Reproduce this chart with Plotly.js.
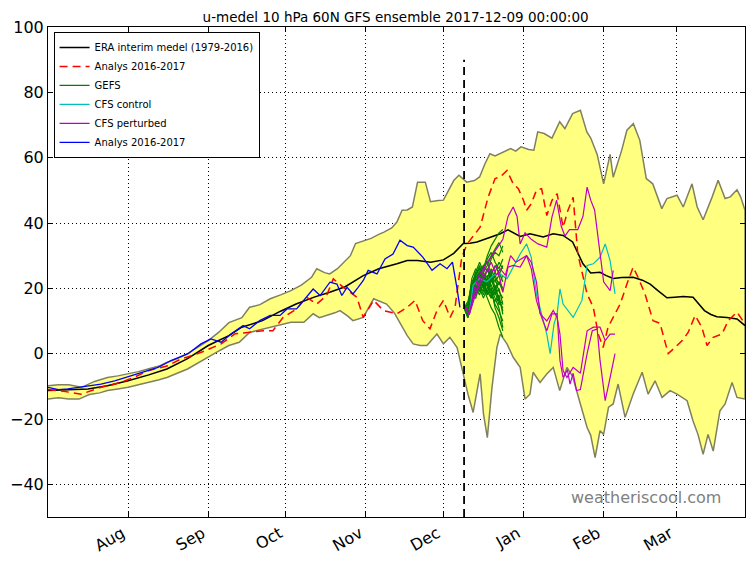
<!DOCTYPE html>
<html>
<head>
<meta charset="utf-8">
<script src="https://cdn.plot.ly/plotly-3.0.1.min.js"></script>
<style>html,body{margin:0;padding:0;background:#fff}#chart{width:755px;height:561px}</style>
</head>
<body>
<div id="chart"></div>
<script>
// Days counted from 2017-07-01
const seasonStart = '2017-07-01';
const forecastDay = 161; // 2017-12-09

const upperDays = [0,4,8,13,18,23,27,31,35,39,43,46,50,54,58,62,66,70,75,78,82,86,90,94,98,102,104,107,109,112,114,117,119,122,125,128,130,133,135,137,139,141,143,146,148,151,153,155,157,159,160.5,162,165,167,169,171,173,175,177,179,181,183,186,188,189.5,192,195,198,200,203,206,208.5,210,212.5,215,217.5,218.7,222,224,226.5,229,231.5,234,237.5,239.5,243.4,245.8,249.2,251.2,253.5,257,259.3,262,264,266.6,268,269.7];
const upperVals = [-9.8,-9.5,-9.5,-10.3,-8.5,-7.3,-6.8,-6.2,-5.5,-4.6,-3.8,-2.7,-1.5,0,2,4,6.5,9.5,11,14.2,15,16.8,18,19.3,21,23.4,26,24.8,24.4,26,27.6,30,33.7,34.5,35.3,36.5,37.2,38.5,40.3,43.9,44,44.9,52.5,52.5,46.5,46.9,47,50,53,54.6,53.5,52.5,53,54.1,58,61.2,60.5,61.3,62,62.8,62,63.3,62.5,62.3,67.9,67.4,66,71,68.9,73.5,74.5,67.9,66,61,52,61,54,62.3,68.4,70.4,65.3,53.6,52,44.4,47.5,48.5,44.9,52,44.9,41,48,53.1,47.5,48,50.2,48,43.9];

const lowerDays = [0,4,8,12,16,20,23,27,31,35,39,43,46,50,54,58,62,66,70,74,78,82,86,90,94,99,102.6,105,108,111,113,116,118,122,126,128.5,131,134,136,139,141.3,144,146.6,150.5,153,155.5,158.3,160,162.5,164.5,167.2,168.5,170,171.8,173.7,175,177.6,180,182.7,184.6,186.5,187.7,190.4,193,195.5,198,200.8,203,206,208.6,210,211.7,213.6,215,216.9,218.7,220.6,223.3,226.4,229.9,232.2,234.9,237.6,240.7,243.4,247.3,249.6,251.5,253.5,255.4,257.4,260,262,264.7,266.6,269.7];
const lowerVals = [-13.9,-13.5,-13.9,-13.9,-12.5,-12,-11.3,-10.8,-10.3,-9.5,-8.8,-8,-7.3,-6,-4.7,-3,-1.1,0.8,2.5,3.5,6.5,7.2,8.1,8.8,9.6,9.6,12.2,11,11.7,12.5,13.2,11.5,10.1,11.1,16.8,16,15.2,12.5,9.5,5.5,3,2.5,2.5,6,3,5,1.9,-4.2,-12.4,-18,-6.2,-18.4,-25.7,-10.3,1.9,6,3,-1.1,-4.2,-13.9,-12.4,-5.7,-8.8,-6.2,-4.2,-11.3,-4.2,-7,-15.4,-22.6,-25,-31.8,-23.6,-24.7,-16.4,-15.4,-9.3,-19.5,-12.4,-5.7,-12.4,-8.3,-13.4,-11.3,-12.4,-14.4,-20.6,-24.7,-30.8,-24.7,-29.8,-17.5,-15.4,-8.8,-13.4,-13.9];

const eraDays = [0,8,15.5,23,31,39,46,54,62,70,75,83,90,96,103,109,115,122,128,135,139,143,148,153,157,160.7,163.3,166,171,175,178,180,182.7,186.5,191.6,195.5,199.3,203,207,210,213.6,216,218.7,222,226.4,230,233,236,239.5,242.5,245.8,249.6,252,254,256.5,258.8,262.7,266.6,269.7];
const eraVals = [-11.3,-11,-10.8,-9.8,-8.3,-6.5,-4.7,-1.5,2.5,5.5,8.1,10.1,13,15.2,17.3,18.8,20.5,23.9,26,27.5,28.5,28.5,28,28.7,30.7,33.7,33.8,34.2,35.7,36.7,37.9,37,35.9,36.7,35.7,36.7,36.2,34.2,27.5,24.7,24.9,23.9,23,23.3,23.4,22.5,21.3,19.3,17.1,17.3,17.5,17.3,15,13.2,12,11.3,11.1,10.6,8.6];

const lastYearDays = [0,6,12.8,20.5,25,29.8,34,38.7,46.4,51.5,56,60.8,67,72.4,77.4,83.3,87,91,96.2,100,104,107.8,110.4,114.3,119.5,122,126,129.8,135,139,142,145,147.8,150.5,153,155.6,157.5,158.7,160.1,162.2,167.2,170.3,173,175,177.6,180,182,184,185.2,187,189,191,193,195,197,199.3,201.2,203.2,205,208.6,211,212.9,214.8,216.7,218.7,221.4,224,226.4,228.3,231,234.1,236.8,240,242.6,245.4,247.7,250.4,253,255,257.4,260.8,263.2,266.6,269.7];
const lastYearVals = [-11,-11.5,-12.4,-10.3,-9.5,-8.3,-7,-5.2,-3.7,-1.6,-0.5,0.9,3,6.1,6.5,7,7,11.1,13.7,17.3,15.2,17.8,22.9,20.3,17.3,11.1,16.3,13.2,12.2,14.2,16.3,10.1,7.6,13.2,16.3,11.1,14.2,21.3,29.5,33.6,38.7,47.9,53.6,54.1,56.1,52,50.5,46.9,43.9,45.9,50,50.5,42.3,46.9,49,38.7,43.9,47.9,30.5,18.3,14.2,6,1.9,8.1,11.1,15.2,21.3,26.5,23.4,18.3,10.1,9.3,0,1.9,4,6.5,11.7,8.1,2.5,5,6,10.1,12.7,9.1];

const analysisDays = [0,4,7.7,12,15.5,20.5,25.8,31,35,38.7,42.6,47.6,51,54.2,59.2,63,67,70.8,75.5,78,81.9,86,89.8,92.5,96.2,100.1,102.6,105.3,109.1,111.8,113.7,115.7,118,120,122,123.9,127.3,130.4,133.5,136.2,139,141.3,145.1,148.6,151.7,154.4,156.5,158.2,159.4];
const analysisVals = [-10.3,-11,-10.8,-10.3,-9.8,-9.3,-8.3,-7,-6,-5.2,-4.2,-2.1,-1,0,3,4.5,3.5,6,8.6,7.6,10.1,11.7,11.7,13.7,13.7,17.3,19.8,17.8,21.9,21.3,17.8,20.3,18.3,20.3,22.4,25.5,24.4,29,30.5,34.7,33.1,32.6,29.5,25.5,27.5,26,28,20.3,14.2];

const gefsDays = [161,162.5,164,165.5,167,168.5,170,171.5,173,174.5,176];
const gefsMembers = [
  [14,12,18,22,24,26,30,33,35,37,38],
  [14,13,20,25,23,27,25,29,31,30,33],
  [14,15,22,24,27,23,26,22,25,28,26],
  [14,12,17,21,19,24,21,25,20,22,19],
  [14,16,21,19,24,22,19,17,21,16,14],
  [14,13,19,23,21,18,22,19,15,13,10],
  [14,11,16,20,22,20,17,14,12,8,5],
  [14,14,23,26,24,20,23,26,23,19,17],
  [14,12,18,17,21,25,22,18,16,18,12],
  [14,15,20,24,26,22,24,20,17,14,8],
  [14,13,19,22,25,27,28,24,27,25,22],
  [14,12,21,18,20,17,20,23,19,15,16],
  [14,13,20,24,22,25,29,31,28,26,29],
  [14,12,17,20,23,21,19,22,24,21,24],
  [14,14,22,20,18,22,26,23,20,17,13],
  [14,11,18,24,26,24,21,17,19,22,20],
  [14,15,19,21,20,23,18,20,14,11,7],
  [14,13,21,25,28,25,27,30,32,34,31],
  [14,12,16,19,21,19,23,21,18,20,15],
  [14,14,20,23,25,21,18,24,22,24,27]
];

const cfsCtrlDays = [161,163,164.5,167,169.8,172.4,175,177.6,180,182.7,185.2,187,189,191,193,194.3,195.8,197,198.1,199.3,203.2,206.6,208.6,211,213.6,215.6,217.5,219.4];
const cfsCtrlVals = [15,12,21,23,22,24,24.4,22.9,26.5,30.5,33.6,29.5,18.3,12.2,6,0,9.1,12.2,19.8,15.2,11.1,16.3,27,27.5,29.5,33.6,28.5,18.3];

const cfsPertADays = [161,163,165,167,170,172,174,176,178,180,181.5,182.7,184.6,187,189.6,193,195,196.8,198.6,200,201.8,205,207,208.6,210,211.5,213,215,217.5,218.7];
const cfsPertAVals = [15,12,20,24.4,28,30.5,32.6,35,42,44.9,42,33.6,37,35,33.6,32.6,41.8,47,39,36,38,38,42,51,47,44,35,22,19.3,25.5];
const cfsPertBDays = [161,163,165,167,169,171.5,173.5,175,176,178,180,182.7,185.2,187,189,191,193,195,197,198.1,199.3,201,202,203.2,204.5,206,208.6,210.6,212.5,213.6,215.6,217.5,219.4];
const cfsPertBVals = [15,12,18,22,26,25,27,22.4,18.8,26.5,27,26.5,30,26,16.3,11.1,7,12.2,12.2,-2.1,-7.3,-5,-9.3,-6,-11.3,-11,0,7,7.5,-2,-14.4,-7.3,0];
const cfsPertCDays = [161,163,165,167,169,171.5,173.5,175,177,179,181,183,185.2,187,189,190.4,193,195.5,197,198.1,199.3,200.8,203.2,206,208.6,211,213.6,215.6,217.5,219.4];
const cfsPertCVals = [15,12,17,21,24,28,24,26,24,30,28,29,30,28,22,12.2,10,13.2,11,6,-5.2,-7.3,-4.2,-6,7,8.1,8.1,4,6,6];

const monthTicks = ['2017-08-01','2017-09-01','2017-10-01','2017-11-01','2017-12-01','2018-01-01','2018-02-01','2018-03-01'];
const monthLabels = ['Aug','Sep','Oct','Nov','Dec','Jan','Feb','Mar'];
const yTicks = [-40,-20,0,20,40,60,80,100];

const BASE = Date.parse(seasonStart + 'T00:00:00Z');
const DAYMS = 86400000;
const toX = arr => arr.map(d => BASE + d * DAYMS);
const endDay = 269.7;

const traces = [];
// envelope
const envX = toX(upperDays).concat(toX(lowerDays).reverse());
const envY = upperVals.concat(lowerVals.slice().reverse());
traces.push({x: envX, y: envY, type: 'scatter', mode: 'lines', fill: 'toself',
  fillcolor: 'rgb(255,255,128)', line: {color: 'rgb(128,128,96)', width: 1.5},
  showlegend: false, hoverinfo: 'skip'});

traces.push({x: toX(eraDays), y: eraVals, type: 'scatter', mode: 'lines',
  name: 'ERA interim medel (1979-2016)', line: {color: '#000000', width: 1.5}});
traces.push({x: toX(lastYearDays), y: lastYearVals, type: 'scatter', mode: 'lines',
  name: 'Analys 2016-2017', line: {color: '#ff0000', width: 1.5, dash: '8px,5px'}});
gefsMembers.forEach((m, i) => {
  traces.push({x: toX(gefsDays), y: m, type: 'scatter', mode: 'lines',
    name: 'GEFS', legendgroup: 'gefs', showlegend: i === 0,
    line: {color: '#008000', width: 1.2}});
});
traces.push({x: toX(cfsCtrlDays), y: cfsCtrlVals, type: 'scatter', mode: 'lines',
  name: 'CFS control', line: {color: '#00bfbf', width: 1.2}});
[[cfsPertADays, cfsPertAVals], [cfsPertBDays, cfsPertBVals], [cfsPertCDays, cfsPertCVals]].forEach((p, i) => {
  traces.push({x: toX(p[0]), y: p[1], type: 'scatter', mode: 'lines',
    name: 'CFS perturbed', legendgroup: 'cfsp', showlegend: i === 0,
    line: {color: '#bf00bf', width: 1.2}});
});
traces.push({x: toX(analysisDays), y: analysisVals, type: 'scatter', mode: 'lines',
  name: 'Analys 2016-2017', line: {color: '#0000ff', width: 1.3}});

const axisCommon = {
  showline: true, linecolor: '#000', linewidth: 1, mirror: 'ticks',
  ticks: 'inside', ticklen: 5, tickcolor: '#000',
  showgrid: true, gridcolor: '#000', gridwidth: 1, griddash: '1px,3px',
  zeroline: false
};

const layout = {
  width: 755, height: 561,
  margin: {l: 48, r: 10, t: 27, b: 44},
  paper_bgcolor: '#fff', plot_bgcolor: '#fff',
  font: {family: 'DejaVu Sans, sans-serif', color: '#000'},
  title: {text: 'u-medel 10 hPa 60N GFS ensemble 2017-12-09 00:00:00',
    font: {size: 13.5, color: '#000'}, x: 0.524, xanchor: 'center', y: 0.97, yanchor: 'middle'},
  xaxis: Object.assign({}, axisCommon, {
    type: 'date', range: [BASE, BASE + endDay * DAYMS],
    tickmode: 'array', tickvals: monthTicks, ticktext: monthLabels,
    tickangle: -30, tickfont: {size: 16}, ticklabelshift: -6
  }),
  yaxis: Object.assign({}, axisCommon, {
    range: [-50, 100], tickmode: 'array', tickvals: yTicks,
    tickfont: {size: 16}
  }),
  legend: {x: 0.008, y: 0.99, xanchor: 'left', yanchor: 'top',
    bgcolor: '#fff', bordercolor: '#000', borderwidth: 1,
    font: {size: 10}, itemwidth: 30, tracegroupgap: 0},
  shapes: [{type: 'line', xref: 'x', yref: 'y',
    x0: BASE + forecastDay * DAYMS, x1: BASE + forecastDay * DAYMS, y0: -50, y1: 90,
    line: {color: '#000', width: 1.8, dash: '8px,5px'}}],
  annotations: [{text: 'weatheriscool.com', xref: 'paper', yref: 'paper',
    x: 0.968, y: 0.04, xanchor: 'right', yanchor: 'middle', showarrow: false,
    font: {size: 16, color: '#808080'}}],
  showlegend: true
};

Plotly.newPlot('chart', traces, layout, {displayModeBar: false, staticPlot: true});
</script>
</body>
</html>
